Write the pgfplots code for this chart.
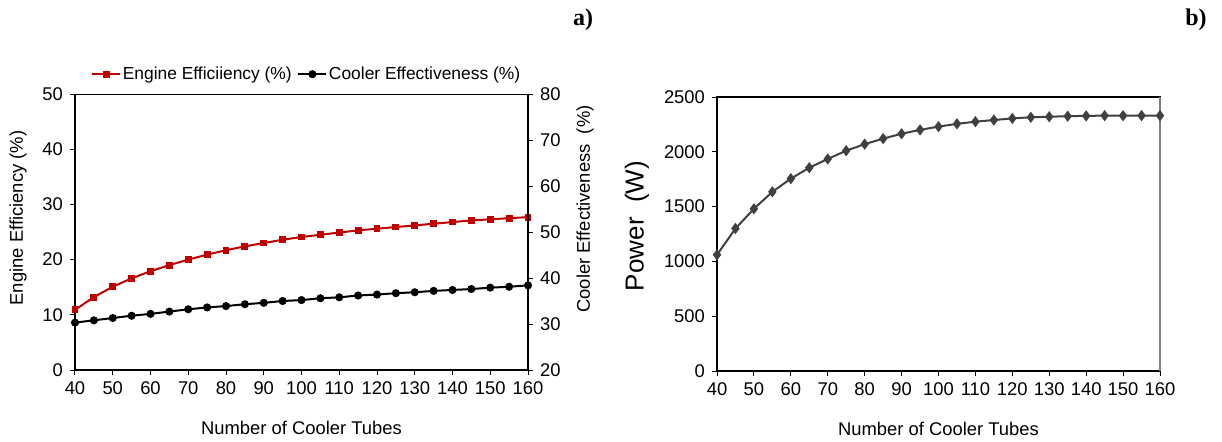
\documentclass[border=0pt]{standalone}
\usepackage{fontspec}
\setmainfont{Liberation Sans}
\newfontfamily\timesf{Liberation Serif}
\usepackage{pgfplots}
\pgfplotsset{compat=1.18}

\definecolor{effred}{HTML}{C00000}
\definecolor{powgray}{HTML}{404040}

\pgfplotstableread{
n eff cool
40 10.9 30.3
45 13.2 30.8
50 15.1 31.3
55 16.6 31.8
60 17.9 32.2
65 19.0 32.7
70 20.0 33.2
75 20.9 33.6
80 21.7 33.9
85 22.4 34.3
90 23.0 34.6
95 23.6 35.0
100 24.1 35.2
105 24.5 35.6
110 24.9 35.8
115 25.3 36.2
120 25.6 36.4
125 25.9 36.7
130 26.2 36.9
135 26.5 37.2
140 26.8 37.4
145 27.1 37.6
150 27.3 37.9
155 27.5 38.1
160 27.7 38.4
}\dataA

\pgfplotstableread{
n pow
40 1060
45 1300
50 1480
55 1635
60 1755
65 1855
70 1935
75 2010
80 2070
85 2120
90 2165
95 2200
100 2230
105 2255
110 2275
115 2290
120 2305
125 2315
130 2320
135 2325
140 2328
145 2330
150 2330
155 2330
160 2330
}\dataB

\newcommand\txt{\fontsize{9.2}{11}\selectfont}

\pgfplotsset{
  every axis/.append style={
    font=\txt,
    scale only axis,
    /pgf/number format/assume math mode=true,
    /pgf/number format/1000 sep={},
    tick align=outside,
    major tick length=2.5pt,
    axis line style={line width=0.6pt},
    every tick/.style={black, line width=0.5pt},
  },
}

\begin{document}
\begin{tikzpicture}
\useasboundingbox (0,0) rectangle (611pt,220.5pt);

% ---- panel a) left axis
\begin{axis}[
  name=L,
  at={(37.5pt,35.5pt)}, anchor=south west,
  width=226.5pt, height=138pt,
  xmin=40, xmax=160, ymin=0, ymax=50,
  xtick={40,50,...,160}, ytick={0,10,...,50},
  axis y line*=left, axis x line*=bottom,
  xtick pos=bottom, ytick pos=left,
  legend style={at={(0.5,1)}, anchor=south, xshift=2.5pt, yshift=5pt, draw=none,
    fill=none, font=\fontsize{8.7}{10}\selectfont, inner sep=0pt, nodes={inner sep=0.8pt},
    /tikz/every even column/.append style={column sep=2pt}},
  legend columns=2,
  legend image code/.code={\draw[#1, mark repeat=2, mark phase=2] plot coordinates {(0pt,0pt) (7pt,0pt) (14pt,0pt)};},
]
\addplot[effred, line width=1pt, mark=square*, mark size=1.2pt,
  mark options={solid}] table[x=n, y=eff] {\dataA};
\addlegendentry{Engine Efficiiency (\%)}
\addlegendimage{black, line width=1pt, mark=*, mark size=1.5pt}
\addlegendentry{Cooler Effectiveness (\%)}
\end{axis}

% ---- panel a) right axis
\begin{axis}[
  at={(37.5pt,35.5pt)}, anchor=south west,
  width=226.5pt, height=138pt,
  xmin=40, xmax=160, ymin=20, ymax=80,
  ytick={20,30,...,80},
  axis y line*=right, axis x line=none,
  ytick pos=right,
]
\addplot[black, line width=1pt, mark=*, mark size=1.5pt] table[x=n, y=cool] {\dataA};
\draw[black, line width=0.6pt] (rel axis cs:0,1) -- (rel axis cs:1,1);
\end{axis}

\node[rotate=90, anchor=center, font=\txt] at ([xshift=-28.5pt, yshift=7pt]L.west) {Engine Efficiency (\%)};
\node[rotate=90, anchor=center, font=\txt] at ([xshift=28.5pt, yshift=11.5pt]L.east) {Cooler Effectiveness\ \ (\%)};
\node[anchor=center, font=\txt] at ([yshift=-29pt]L.south) {Number of Cooler Tubes};

% ---- panel b)
\begin{axis}[
  name=R,
  at={(358.5pt,35pt)}, anchor=south west,
  width=221.5pt, height=137pt,
  xmin=40, xmax=160, ymin=0, ymax=2500,
  xtick={40,50,...,160}, ytick={0,500,...,2500},
  xtick pos=bottom, ytick pos=left,
  clip=false,
]
\addplot[powgray, line width=1pt, mark=diamond*, mark size=2pt] table[x=n, y=pow] {\dataB};
\draw[gray, line width=0.8pt] (rel axis cs:1,0) -- (rel axis cs:1,1);
\end{axis}

\node[rotate=90, anchor=center, font=\fontsize{13}{15}\selectfont] at ([xshift=-40pt, yshift=4pt]R.west) {Power\ \ (W)};
\node[anchor=center, font=\txt] at ([yshift=-29pt]R.south) {Number of Cooler Tubes};

\node[font=\timesf\bfseries\fontsize{12}{14}\selectfont] at (291.5pt,210.5pt) {a)};
\node[font=\timesf\bfseries\fontsize{12}{14}\selectfont] at (598pt,210.5pt) {b)};
\end{tikzpicture}
\end{document}
